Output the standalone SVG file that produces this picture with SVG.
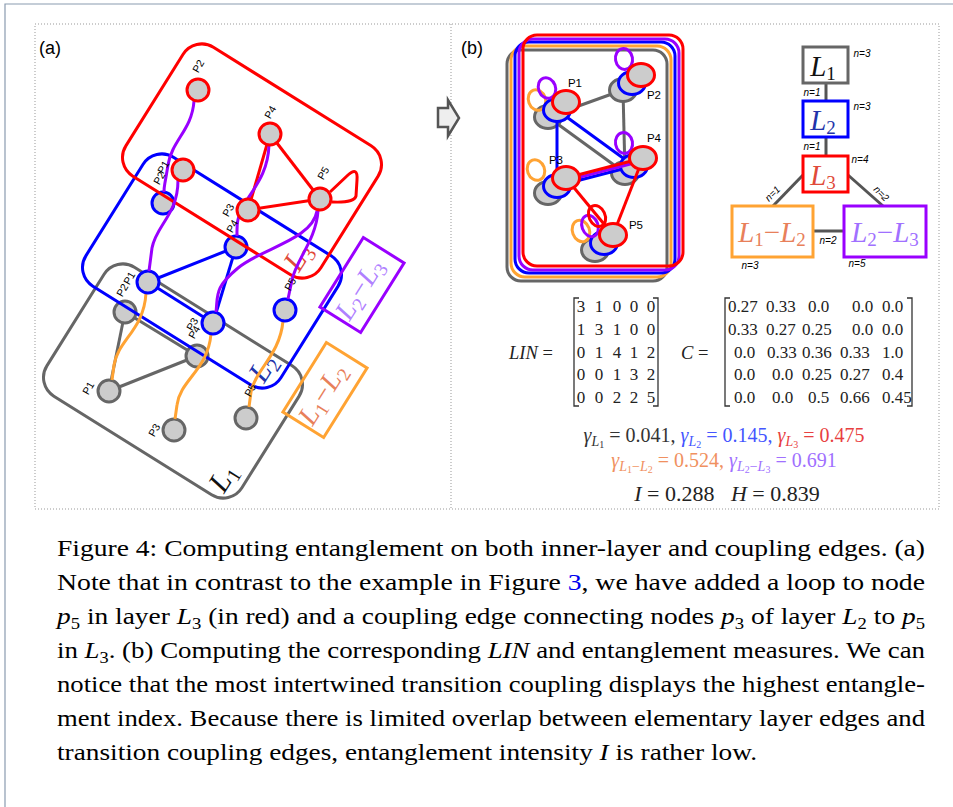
<svg xmlns="http://www.w3.org/2000/svg" width="953" height="807" viewBox="0 0 953 807">
<defs>
<style>
.frame{fill:none;stroke:#8a9bb0;stroke-width:1.2}
.dot{fill:none;stroke:#999;stroke-width:1;stroke-dasharray:1 2}
.lay{fill:none;stroke-width:3}
.g{stroke:#666666}.b{stroke:#0000ff}.r{stroke:#ff0000}.o{stroke:#ffa333}.p{stroke:#9900ff}
.e{fill:none;stroke-width:3}
.cp{fill:none;stroke-width:3}
.nd{fill:#cccccc;stroke-width:3}
.lbl{font-family:"Liberation Sans",Arial,sans-serif;font-size:10.5px;fill:#000}
.lblb{font-family:"Liberation Sans",Arial,sans-serif;font-size:11.5px;fill:#000}
.nl{font-family:"Liberation Sans",Arial,sans-serif;font-size:10px;font-style:italic;fill:#000}
.math{font-family:"Liberation Serif","Times New Roman",serif;font-size:17px;fill:#222}
.big{font-family:"Liberation Serif","Times New Roman",serif;font-style:italic}
.cap{font-family:"Liberation Serif","Times New Roman",serif;font-size:23.5px;fill:#000}
.panel{font-family:"Liberation Sans",Arial,sans-serif;font-size:18px;fill:#000}
.br{fill:none;stroke:#333;stroke-width:1.3}
.bx{fill:#fff;stroke-width:3}
.ln{stroke:#555;stroke-width:3}
</style>
</defs>
<rect x="0" y="0" width="953" height="807" fill="#fff"/>
<path class="frame" d="M5 807 L5 4 L953 4"/>
<rect class="dot" x="35" y="24" width="904" height="485"/>
<line class="dot" x1="451" y1="24" x2="451" y2="509"/>
<text class="panel" x="39" y="54">(a)</text>
<text class="panel" x="461" y="54">(b)</text>
<g id="arrow"><polygon points="438,108 448,108 448,100 459,118 448,136 448,127 438,127" fill="#eeeeee" stroke="#555" stroke-width="2.5" stroke-linejoin="miter"/></g>

<!-- Panel (a) -->
<g id="layerL1">
<rect class="lay g" x="-115" y="-76" width="230" height="152" rx="22" transform="translate(173,381) rotate(32)"/>
<text class="big" font-size="30" fill="#111" text-anchor="middle" transform="translate(231,483) rotate(-58)">L<tspan font-size="20" font-style="normal" dy="5">1</tspan></text>
</g>
<g id="edgesL1">
<line class="e g" x1="125" y1="312" x2="109" y2="391"/>
<line class="e g" x1="109" y1="391" x2="197" y2="356"/>
<line class="e g" x1="125" y1="312" x2="197" y2="356"/>
</g>
<g id="nodesL1">
<g id="a-L1-P2"><circle class="nd g" cx="125" cy="312" r="11"/></g>
<g id="a-L1-P4"><circle class="nd g" cx="197" cy="356" r="11"/></g>
<g id="a-L1-P1"><circle class="nd g" cx="109" cy="391" r="11"/></g>
<g id="a-L1-P3"><circle class="nd g" cx="174" cy="430" r="11"/></g>
<g id="a-L1-P5"><circle class="nd g" cx="246" cy="418" r="11"/></g>
</g>
<g id="layerL2">
<rect class="lay b" x="-115" y="-76" width="230" height="152" rx="22" transform="translate(212,271) rotate(32)"/>
<text class="big" font-size="30" fill="#2233aa" text-anchor="middle" transform="translate(271,373) rotate(-58)">L<tspan font-size="20" font-style="normal" dy="5">2</tspan></text>
</g>
<g id="edgesL2">
<line class="e b" x1="148" y1="282" x2="236" y2="247"/>
<line class="e b" x1="236" y1="247" x2="213" y2="323"/>
<line class="e b" x1="148" y1="282" x2="213" y2="323"/>
</g>
<g id="couplingL1L2">
<path class="cp o" d="M146 293 C144 330 118 340 114 365 L112 380"/>
<path class="cp o" d="M211 334 C208 370 180 380 177 405 L175 419"/>
<path class="cp o" d="M283 321 C280 355 255 370 251 392 L249 407"/>
</g>
<g id="nodesL2">
<g id="a-L2-P2"><circle class="nd b" cx="163" cy="203" r="11"/></g>
<g id="a-L2-P4"><circle class="nd b" cx="236" cy="247" r="11"/></g>
<g id="a-L2-P1"><circle class="nd b" cx="148" cy="282" r="11"/></g>
<g id="a-L2-P3"><circle class="nd b" cx="213" cy="323" r="11"/></g>
<g id="a-L2-P5"><circle class="nd b" cx="285" cy="310" r="11"/></g>
</g>
<g id="layerL3">
<rect class="lay r" x="-115" y="-76" width="230" height="152" rx="22" transform="translate(252,161) rotate(32)"/>
<text class="big" font-size="30" fill="#e04a3a" text-anchor="middle" transform="translate(306,262) rotate(-58)">L<tspan font-size="20" font-style="normal" dy="5">3</tspan></text>
</g>
<g id="edgesL3">
<line class="e r" x1="270" y1="134" x2="248" y2="210"/>
<line class="e r" x1="270" y1="134" x2="320" y2="199"/>
<line class="e r" x1="248" y1="210" x2="320" y2="199"/>
<path class="e r" d="M330 192 L348 175 Q358 166 357 180 L356 196 Q354 203 332 202" stroke-linejoin="round"/>
</g>
<g id="couplingL2L3">
<path class="cp p" d="M194 101 C192 130 172 140 168 165 S164 185 164 192"/>
<path class="cp p" d="M178 180 C178 215 156 225 152 248 L149 271"/>
<path class="cp p" d="M269 145 C268 175 252 190 244 205 S237 225 237 236"/>
<path class="cp p" d="M318 211 C316 240 296 260 292 280 L288 299"/>
<path class="cp p" d="M317 211 C312 240 262 248 238 268 S218 295 216 312"/>
</g>
<g id="nodesL3">
<g id="a-L3-P2"><circle class="nd r" cx="198" cy="90" r="11"/></g>
<g id="a-L3-P4"><circle class="nd r" cx="270" cy="134" r="11"/></g>
<g id="a-L3-P1"><circle class="nd r" cx="183" cy="170" r="11"/></g>
<g id="a-L3-P3"><circle class="nd r" cx="248" cy="210" r="11"/></g>
<g id="a-L3-P5"><circle class="nd r" cx="320" cy="199" r="11"/></g>
</g>
<g id="labelsA">
<text class="lbl" text-anchor="middle" dominant-baseline="central" transform="translate(198,66) rotate(-60)">P2</text>
<text class="lbl" text-anchor="middle" dominant-baseline="central" transform="translate(270,112) rotate(-60)">P4</text>
<text class="lbl" text-anchor="middle" dominant-baseline="central" transform="translate(323,173) rotate(-60)">P5</text>
<text class="lbl" text-anchor="middle" dominant-baseline="central" transform="translate(228,210) rotate(-60)">P3</text>
<text class="lbl" text-anchor="middle" dominant-baseline="central" transform="translate(163,167) rotate(-60)">P1</text>
<text class="lbl" text-anchor="middle" dominant-baseline="central" transform="translate(159,178) rotate(-60)">P2</text>
<text class="lbl" text-anchor="middle" dominant-baseline="central" transform="translate(232,226) rotate(-60)">P4</text>
<text class="lbl" text-anchor="middle" dominant-baseline="central" transform="translate(129,278) rotate(-60)">P1</text>
<text class="lbl" text-anchor="middle" dominant-baseline="central" transform="translate(122,290) rotate(-60)">P2</text>
<text class="lbl" text-anchor="middle" dominant-baseline="central" transform="translate(192,324) rotate(-60)">P3</text>
<text class="lbl" text-anchor="middle" dominant-baseline="central" transform="translate(194,332) rotate(-60)">P4</text>
<text class="lbl" text-anchor="middle" dominant-baseline="central" transform="translate(290,284) rotate(-60)">P5</text>
<text class="lbl" text-anchor="middle" dominant-baseline="central" transform="translate(88,388) rotate(-60)">P1</text>
<text class="lbl" text-anchor="middle" dominant-baseline="central" transform="translate(154,430) rotate(-60)">P3</text>
<text class="lbl" text-anchor="middle" dominant-baseline="central" transform="translate(250,390) rotate(-60)">P5</text>
</g>
<g id="boxL2L3">
<rect class="lay p" x="-41" y="-24" width="82" height="48" transform="translate(362,285) rotate(-58)"/>
<text class="big" font-size="28" fill="#b080ff" text-anchor="middle" transform="translate(367,294) rotate(-58)">L<tspan font-size="19" font-style="normal" dy="5">2</tspan><tspan dy="-5" font-style="normal">−</tspan>L<tspan font-size="19" font-style="normal" dy="5">3</tspan></text>
</g>
<g id="boxL1L2">
<rect class="lay o" x="-41" y="-24" width="82" height="48" transform="translate(325,390) rotate(-58)"/>
<text class="big" font-size="28" fill="#e8805a" text-anchor="middle" transform="translate(330,399) rotate(-58)">L<tspan font-size="19" font-style="normal" dy="5">1</tspan><tspan dy="-5" font-style="normal">−</tspan>L<tspan font-size="19" font-style="normal" dy="5">2</tspan></text>
</g>

<!-- Panel (b) -->
<g id="slices">
<rect class="lay g" x="507" y="50" width="160" height="231" rx="14"/>
<rect class="lay o" x="511" y="46" width="160" height="231" rx="14"/>
<rect class="lay b" x="515" y="42" width="160" height="231" rx="14"/>
<rect class="lay p" x="519" y="39" width="160" height="231" rx="14"/>
<rect class="lay r" x="523" y="35" width="160" height="231" rx="14"/>
</g>
<g id="edgesB">
<line class="e g" x1="548" y1="117" x2="623" y2="90"/>
<line class="e g" x1="623" y1="90" x2="625" y2="173"/>
<line class="e g" x1="548" y1="117" x2="625" y2="173"/>
</g>
<g id="nodesB-L1">
<g id="b-L1-P1"><ellipse class="nd g" cx="548" cy="117" rx="13.5" ry="11.5"/></g>
<g id="b-L1-P2"><ellipse class="nd g" cx="623" cy="90" rx="13.5" ry="11.5"/></g>
<g id="b-L1-P3"><ellipse class="nd g" cx="548" cy="193" rx="13.5" ry="11.5"/></g>
<g id="b-L1-P4"><ellipse class="nd g" cx="625" cy="173" rx="13.5" ry="11.5"/></g>
<g id="b-L1-P5"><ellipse class="nd g" cx="595" cy="250" rx="13.5" ry="11.5"/></g>
</g>
<g id="loopsB-L1L2">
<ellipse class="cp o" cx="537" cy="100" rx="8.5" ry="10.5" transform="rotate(-20 537 100)"/>
<ellipse class="cp o" cx="536" cy="170" rx="8.5" ry="10.5" transform="rotate(-20 536 170)"/>
<ellipse class="cp o" cx="581" cy="231" rx="8.5" ry="11" transform="rotate(-20 581 231)"/>
</g>
<g id="edgesB-L2">
<line class="e b" x1="557" y1="110" x2="557" y2="186"/>
<line class="e b" x1="557" y1="110" x2="634" y2="166"/>
<line class="e b" x1="557" y1="186" x2="634" y2="166"/>
</g>
<g id="nodesB-L2">
<g id="b-L2-P1"><ellipse class="nd b" cx="557" cy="110" rx="13.5" ry="11.5"/></g>
<g id="b-L2-P2"><ellipse class="nd b" cx="632" cy="83" rx="13.5" ry="11.5"/></g>
<g id="b-L2-P3"><ellipse class="nd b" cx="557" cy="186" rx="13.5" ry="11.5"/></g>
<g id="b-L2-P4"><ellipse class="nd b" cx="634" cy="166" rx="13.5" ry="11.5"/></g>
<g id="b-L2-P5"><ellipse class="nd b" cx="604" cy="243" rx="13.5" ry="11.5"/></g>
</g>
<g id="loopsB-L2L3">
<ellipse class="cp p" cx="547" cy="88" rx="8.5" ry="10.5" transform="rotate(-20 547 88)"/>
<ellipse class="cp p" cx="624" cy="59" rx="8.5" ry="10.5" transform="rotate(-10 624 59)"/>
<ellipse class="cp p" cx="624" cy="143" rx="8.5" ry="10.5" transform="rotate(-10 624 143)"/>
<ellipse class="cp p" cx="590" cy="226" rx="8" ry="11" transform="rotate(-20 590 226)"/>
<line class="e p" x1="561" y1="182" x2="638" y2="162"/>
</g>
<g id="edgesB-L3">
<line class="e r" x1="566" y1="178" x2="643" y2="158"/>
<line class="e r" x1="566" y1="178" x2="613" y2="235"/>
<line class="e r" x1="643" y1="158" x2="613" y2="235"/>
<ellipse class="e r" cx="597" cy="216" rx="8" ry="11" transform="rotate(-25 597 216)"/>
</g>
<g id="nodesB-L3">
<g id="b-L3-P1"><ellipse class="nd r" cx="566" cy="102" rx="13.5" ry="11.5"/></g>
<g id="b-L3-P2"><ellipse class="nd r" cx="641" cy="75" rx="13.5" ry="11.5"/></g>
<g id="b-L3-P3"><ellipse class="nd r" cx="566" cy="178" rx="13.5" ry="11.5"/></g>
<g id="b-L3-P4"><ellipse class="nd r" cx="643" cy="158" rx="13.5" ry="11.5"/></g>
<g id="b-L3-P5"><ellipse class="nd r" cx="613" cy="235" rx="13.5" ry="11.5"/></g>
</g>
<g id="labelsB">
<text class="lblb" x="575" y="87" text-anchor="middle">P1</text>
<text class="lblb" x="654" y="99" text-anchor="middle">P2</text>
<text class="lblb" x="654" y="142" text-anchor="middle">P4</text>
<text class="lblb" x="556" y="164" text-anchor="middle">P3</text>
<text class="lblb" x="636" y="229" text-anchor="middle">P5</text>
</g>

<!-- Layer interaction graph -->
<g id="connectors">
<line class="ln" x1="826" y1="83" x2="826" y2="101"/>
<line class="ln" x1="826" y1="137" x2="826" y2="156"/>
<line class="ln" x1="803" y1="175" x2="773" y2="206"/>
<line class="ln" x1="848" y1="175" x2="883" y2="206"/>
<line class="ln" x1="813" y1="231" x2="844" y2="231"/>
<text class="nl" x="812" y="96" text-anchor="middle">n=1</text>
<text class="nl" x="812" y="150" text-anchor="middle">n=1</text>
<text class="nl" text-anchor="middle" transform="translate(775,196) rotate(-45)">n=1</text>
<text class="nl" text-anchor="middle" transform="translate(879,196) rotate(45)">n=2</text>
<text class="nl" x="828" y="244" text-anchor="middle">n=2</text>
</g>
<g id="nodeL1">
<rect class="bx g" x="803" y="47" width="45" height="36"/>
<text class="big" font-size="29" fill="#111" x="823" y="76" text-anchor="middle">L<tspan font-size="19" font-style="normal" dy="4">1</tspan></text>
<text class="nl" x="862" y="57" text-anchor="middle">n=3</text>
</g>
<g id="nodeL2">
<rect class="bx b" x="803" y="101" width="45" height="36"/>
<text class="big" font-size="29" fill="#2233aa" x="823" y="130" text-anchor="middle">L<tspan font-size="19" font-style="normal" dy="4">2</tspan></text>
<text class="nl" x="862" y="110" text-anchor="middle">n=3</text>
</g>
<g id="nodeL3">
<rect class="bx r" x="803" y="156" width="45" height="36"/>
<text class="big" font-size="29" fill="#e04a3a" x="823" y="185" text-anchor="middle">L<tspan font-size="19" font-style="normal" dy="4">3</tspan></text>
<text class="nl" x="860" y="163" text-anchor="middle">n=4</text>
</g>
<g id="nodeL1L2">
<rect class="bx o" x="732" y="206" width="81" height="51"/>
<text class="big" font-size="29" fill="#e8805a" x="772" y="242" text-anchor="middle">L<tspan font-size="19" font-style="normal" dy="4">1</tspan><tspan font-style="normal" dy="-4">−</tspan>L<tspan font-size="19" font-style="normal" dy="4">2</tspan></text>
<text class="nl" x="750" y="269" text-anchor="middle">n=3</text>
</g>
<g id="nodeL2L3">
<rect class="bx p" x="844" y="206" width="82" height="51"/>
<text class="big" font-size="29" fill="#a070ff" x="885" y="242" text-anchor="middle">L<tspan font-size="19" font-style="normal" dy="4">2</tspan><tspan font-style="normal" dy="-4">−</tspan>L<tspan font-size="19" font-style="normal" dy="4">3</tspan></text>
<text class="nl" x="857" y="267" text-anchor="middle">n=5</text>
</g>

<!-- Matrices -->
<g id="matrixLIN" class="math">
<text x="509" y="359" font-size="18.5"><tspan font-style="italic">LIN</tspan> =</text>
<path class="br" d="M579 298 L574 298 L574 406 L579 406"/>
<path class="br" d="M653 298 L658 298 L658 406 L653 406"/>
<g text-anchor="middle">
<text y="312"><tspan x="581">3</tspan><tspan x="599">1</tspan><tspan x="617">0</tspan><tspan x="634">0</tspan><tspan x="651">0</tspan></text>
<text y="335"><tspan x="581">1</tspan><tspan x="599">3</tspan><tspan x="617">1</tspan><tspan x="634">0</tspan><tspan x="651">0</tspan></text>
<text y="358"><tspan x="581">0</tspan><tspan x="599">1</tspan><tspan x="617">4</tspan><tspan x="634">1</tspan><tspan x="651">2</tspan></text>
<text y="380"><tspan x="581">0</tspan><tspan x="599">0</tspan><tspan x="617">1</tspan><tspan x="634">3</tspan><tspan x="651">2</tspan></text>
<text y="403"><tspan x="581">0</tspan><tspan x="599">0</tspan><tspan x="617">2</tspan><tspan x="634">2</tspan><tspan x="651">5</tspan></text>
</g>
</g>
<g id="matrixC" class="math">
<text x="681" y="359" font-size="18.5"><tspan font-style="italic">C</tspan> =</text>
<path class="br" d="M730 298 L725 298 L725 406 L730 406"/>
<path class="br" d="M907 298 L912 298 L912 406 L907 406"/>
<text y="312"><tspan x="728">0.27</tspan><tspan x="766">0.33</tspan><tspan x="808">0.0</tspan><tspan x="852">0.0</tspan><tspan x="882">0.0</tspan></text>
<text y="335"><tspan x="728">0.33</tspan><tspan x="766">0.27</tspan><tspan x="802">0.25</tspan><tspan x="852">0.0</tspan><tspan x="882">0.0</tspan></text>
<text y="358"><tspan x="734">0.0</tspan><tspan x="767">0.33</tspan><tspan x="802">0.36</tspan><tspan x="840">0.33</tspan><tspan x="882">1.0</tspan></text>
<text y="380"><tspan x="734">0.0</tspan><tspan x="772">0.0</tspan><tspan x="802">0.25</tspan><tspan x="840">0.27</tspan><tspan x="882">0.4</tspan></text>
<text y="403"><tspan x="734">0.0</tspan><tspan x="772">0.0</tspan><tspan x="808">0.5</tspan><tspan x="840">0.66</tspan><tspan x="882">0.45</tspan></text>
</g>
<g id="measures" class="math">
<text x="724" y="442" text-anchor="middle" font-size="20"><tspan fill="#333"><tspan font-style="italic">γ</tspan><tspan font-size="14" font-style="italic" dy="4">L</tspan><tspan font-size="10" dy="2">1</tspan><tspan dy="-6"> = 0.041, </tspan></tspan><tspan fill="#4455ff"><tspan font-style="italic">γ</tspan><tspan font-size="14" font-style="italic" dy="4">L</tspan><tspan font-size="10" dy="2">2</tspan><tspan dy="-6"> = 0.145, </tspan></tspan><tspan fill="#e84040"><tspan font-style="italic">γ</tspan><tspan font-size="14" font-style="italic" dy="4">L</tspan><tspan font-size="10" dy="2">3</tspan><tspan dy="-6"> = 0.475</tspan></tspan></text>
<text x="724" y="467" text-anchor="middle" font-size="20"><tspan fill="#f09060"><tspan font-style="italic">γ</tspan><tspan font-size="14" font-style="italic" dy="4">L</tspan><tspan font-size="10" dy="2">1</tspan><tspan font-size="14" dy="-2">−</tspan><tspan font-size="14" font-style="italic">L</tspan><tspan font-size="10" dy="2">2</tspan><tspan dy="-6"> = 0.524, </tspan></tspan><tspan fill="#a070ff"><tspan font-style="italic">γ</tspan><tspan font-size="14" font-style="italic" dy="4">L</tspan><tspan font-size="10" dy="2">2</tspan><tspan font-size="14" dy="-2">−</tspan><tspan font-size="14" font-style="italic">L</tspan><tspan font-size="10" dy="2">3</tspan><tspan dy="-6"> = 0.691</tspan></tspan></text>
<text x="727" y="501" text-anchor="middle" font-size="22" xml:space="preserve"><tspan font-style="italic">I</tspan> = 0.288   <tspan font-style="italic">H</tspan> = 0.839</text>
</g>

<!-- Caption -->
<g id="caption" class="cap">
<text x="57" y="556" textLength="868" lengthAdjust="spacingAndGlyphs">Figure 4: Computing entanglement on both inner-layer and coupling edges. (a)</text>
<text x="57" y="590" textLength="868" lengthAdjust="spacingAndGlyphs">Note that in contrast to the example in Figure <tspan fill="#0000ee">3</tspan>, we have added a loop to node</text>
<text x="57" y="624" textLength="868" lengthAdjust="spacingAndGlyphs"><tspan font-style="italic">p</tspan><tspan font-size="16" dy="5">5</tspan><tspan dy="-5"> in layer </tspan><tspan font-style="italic">L</tspan><tspan font-size="16" dy="5">3</tspan><tspan dy="-5"> (in red) and a coupling edge connecting nodes </tspan><tspan font-style="italic">p</tspan><tspan font-size="16" dy="5">3</tspan><tspan dy="-5"> of layer </tspan><tspan font-style="italic">L</tspan><tspan font-size="16" dy="5">2</tspan><tspan dy="-5"> to </tspan><tspan font-style="italic">p</tspan><tspan font-size="16" dy="5">5</tspan></text>
<text x="57" y="658" textLength="868" lengthAdjust="spacingAndGlyphs">in <tspan font-style="italic">L</tspan><tspan font-size="16" dy="5">3</tspan><tspan dy="-5">. (b) Computing the corresponding </tspan><tspan font-style="italic">LIN</tspan> and entanglement measures. We can</text>
<text x="57" y="692" textLength="868" lengthAdjust="spacingAndGlyphs">notice that the most intertwined transition coupling displays the highest entangle-</text>
<text x="57" y="726" textLength="868" lengthAdjust="spacingAndGlyphs">ment index. Because there is limited overlap between elementary layer edges and</text>
<text x="57" y="760" textLength="700" lengthAdjust="spacingAndGlyphs">transition coupling edges, entanglement intensity <tspan font-style="italic">I</tspan> is rather low.</text>
</g>
</svg>
